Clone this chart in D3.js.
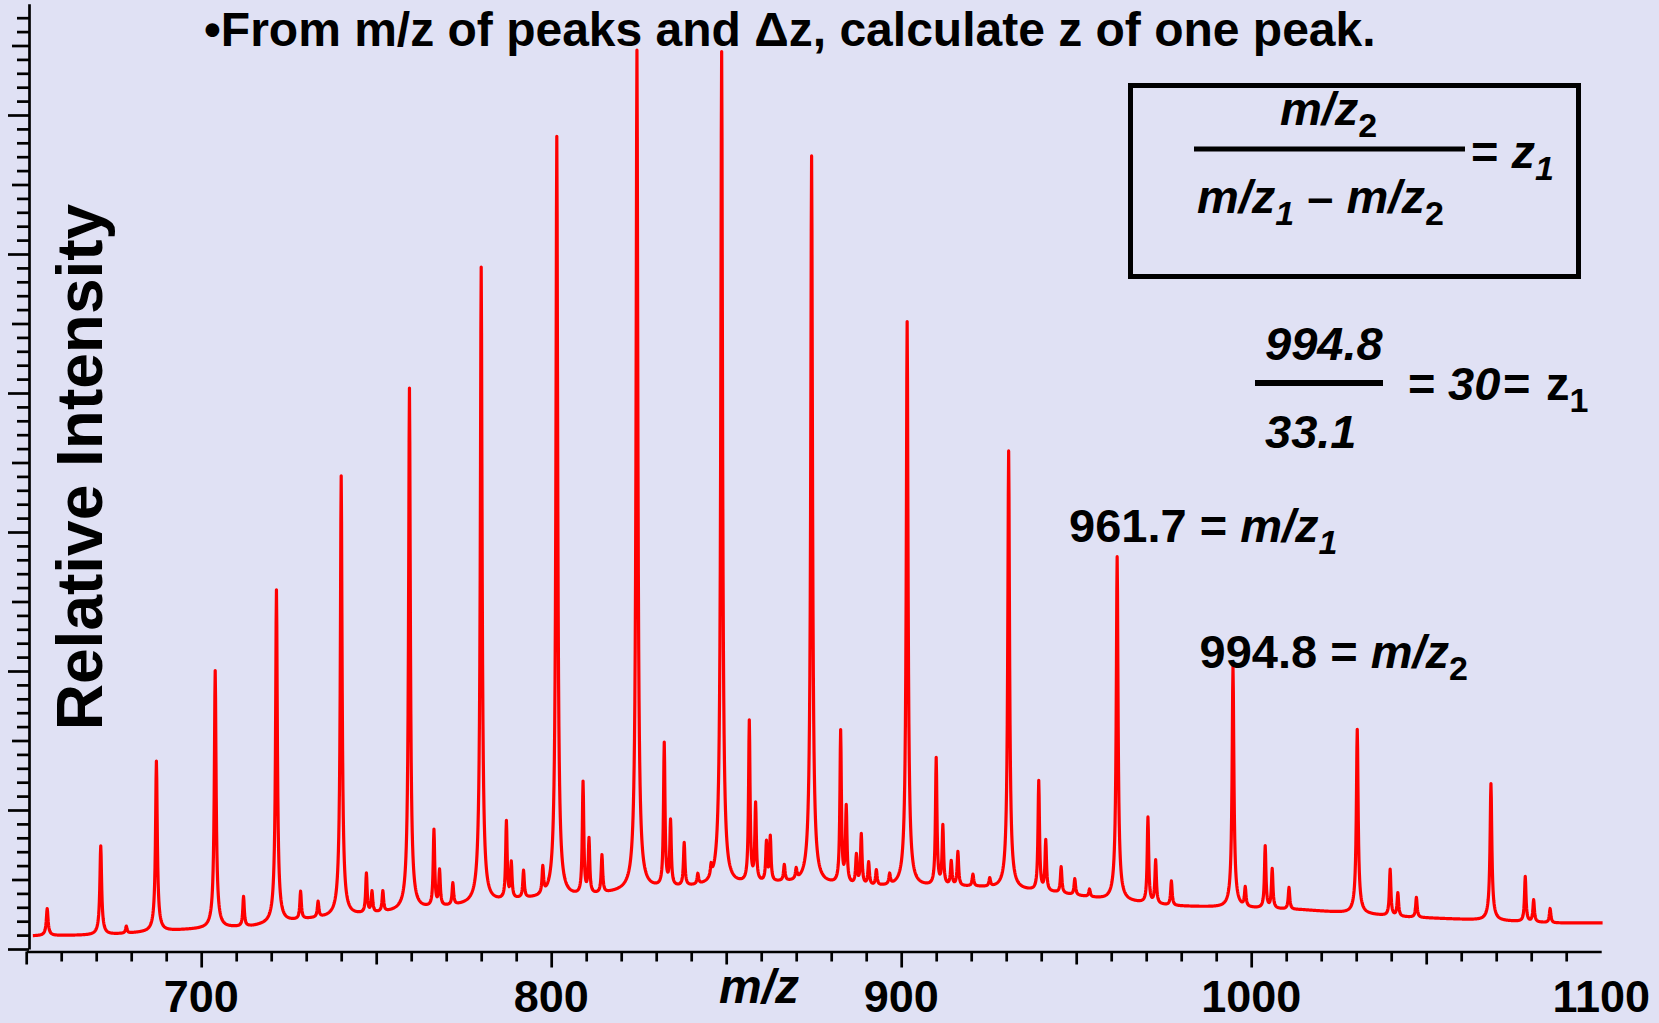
<!DOCTYPE html>
<html>
<head>
<meta charset="utf-8">
<script src="https://cdn.jsdelivr.net/npm/d3@7"></script>
<style>
body { margin: 0; background: #e0e1f4; }
svg { display: block; }
</style>
</head>
<body>
<div id="canvas"></div>
<script>
// ----------------------------------------------------------
// DATA -----------------------------------------------------
// ----------------------------------------------------------

// main charge-state series (m/z, intensity at the top)
var peak_mz = [656.0, 671.3, 687.2, 704.0, 721.5, 740.0, 759.5, 780.0, 801.6,
  824.5, 848.7, 874.4, 901.7, 930.7, 961.7, 994.8, 1030.3, 1068.5];
var peak_top = [2.9, 7.4, 13.5, 20.0, 25.8, 34.0, 40.3, 49.0, 58.4,
  64.6, 64.5, 57.0, 45.1, 35.8, 28.2, 20.3, 15.8, 11.9];

// adduct / minor peaks next to the main ones
var side_mz = [678.6, 712.1, 728.4, 733.4, 747.2, 748.8, 751.9, 766.5, 768.1, 771.9,
  787.2, 788.6, 792.1, 797.6, 809.1, 810.8, 814.5, 832.3, 834.1, 838.0,
  841.9, 845.7, 856.6, 858.4, 861.5, 862.6, 866.6, 870.0, 882.7, 884.3,
  887.2, 888.6, 890.7, 892.9, 896.7, 910.0, 911.9, 914.3, 916.2, 920.5,
  925.3, 939.3, 941.3, 945.7, 949.6, 953.8, 970.5, 972.7, 977.2, 998.3,
  1004.0, 1006.0, 1010.8, 1039.7, 1041.9, 1047.2, 1078.3, 1080.7, 1085.4];
var side_top = [1.6, 3.7, 4.05, 3.3, 5.3, 4.0, 4.05, 8.4, 5.5, 4.6,
  9.0, 6.0, 5.5, 5.5, 11.8, 7.7, 6.6, 14.6, 9.0, 7.5,
  5.2, 5.3, 16.2, 10.2, 7.5, 7.9, 5.9, 5.45, 15.5, 10.0,
  6.6, 8.1, 6.1, 5.56, 5.2, 13.6, 8.7, 6.2, 6.9, 5.3,
  4.96, 12.0, 7.7, 5.85, 5.0, 4.24, 9.4, 6.3, 4.85, 4.3,
  7.36, 5.7, 4.4, 5.7, 4.0, 3.7, 5.2, 3.5, 2.9];

// chemical noise baseline
var base_mz = [651.9, 672.0, 695.6, 714.8, 729.1, 752.8, 772.0, 791.1, 810.0, 825.4, 842.5,
  866.2, 892.0, 920.5, 944.2, 958.5, 977.6, 1014.8, 1043.4, 1064.2, 1086.2, 1100.5];
var base_level = [0.94, 1.0, 1.37, 1.6, 2.09, 2.59, 3.04, 3.53, 3.76, 4.24, 4.46,
  4.75, 4.46, 4.46, 4.03, 3.53, 3.09, 2.81, 2.3, 2.09, 1.87, 1.87];

// axis ticks and labels
var x_ticks = d3.range(650, 1100, 10);
var x_labels = [700, 800, 900, 1000, 1100];
var y_ticks = d3.range(0, 68);

// the two peaks used in the worked example
var label_mz1 = 961.7;
var label_mz2 = 994.8;

var title_text = "\u2022From m/z of peaks and \u0394z, calculate z of one peak.";
var y_title = "Relative Intensity";
var x_title = "m/z";

// ----------------------------------------------------------
// STRUCTURE ------------------------------------------------
// ----------------------------------------------------------
var W = 1659, H = 1023;
var font = "'Liberation Sans', Arial, Helvetica, sans-serif";

var container = d3.select("#canvas").append("svg")
  .attr("width", W)
  .attr("height", H)
  .style("font-family", font);

container.append("rect")
  .attr("width", W)
  .attr("height", H)
  .attr("fill", "#e0e1f4");

var xScale = d3.scaleLinear().domain([650, 1100]).range([26.2, 1601.2]);
var yScale = d3.scaleLinear().domain([0, 68]).range([949, 3.8]);

var gfx_group = container.append("g").attr("class", "gfx_group");
var axis_group = container.append("g").attr("class", "axis_group");
var text_group = container.append("g").attr("class", "text_group");

// ----------------------------------------------------------
// SPECTRUM -------------------------------------------------
// ----------------------------------------------------------
var baseline = d3.scaleLinear().domain(base_mz).range(base_level).clamp(true);

// main peaks get a sharp core plus a wider skirt
var peaks = [];
peak_mz.forEach(function (m, i) {
  var a = Math.max(0, peak_top[i] - baseline(m));
  peaks.push({ c: m, a: a * 0.9, g: 0.28 });
  peaks.push({ c: m, a: a * 0.1, g: 0.8 });
});
side_mz.forEach(function (m, i) {
  peaks.push({ c: m, a: Math.max(0, side_top[i] - baseline(m)), g: 0.25 });
});

// sample grid plus the exact peak centres so every top is hit
var grid = d3.range(base_mz[0], base_mz[base_mz.length - 1], 0.1)
  .concat(peak_mz, side_mz)
  .sort(d3.ascending);

var trace = grid.map(function (m) {
  var v = baseline(m);
  peaks.forEach(function (p) {
    var u = (m - p.c) / p.g;
    v += p.a / (1 + u * u);
  });
  return { mz: m, value: v };
});

var line = d3.line()
  .x(function (d) { return xScale(d.mz); })
  .y(function (d) { return yScale(d.value); });

gfx_group.append("path")
  .datum(trace)
  .attr("d", line)
  .attr("fill", "none")
  .attr("stroke", "#ff0000")
  .attr("stroke-width", 3.2)
  .attr("stroke-linejoin", "round");

// ----------------------------------------------------------
// AXES -----------------------------------------------------
// ----------------------------------------------------------
var y_axis = axis_group.append("g")
  .attr("transform", "translate(29,0)")
  .call(d3.axisLeft(yScale).tickValues(y_ticks).tickFormat("").tickSizeOuter(0));
y_axis.selectAll(".tick line")
  .attr("x2", function (d) { return d % 10 === 0 ? -21 : (d % 5 === 0 ? -17 : -12); });

var x_axis = axis_group.append("g")
  .attr("transform", "translate(0,951.5)")
  .call(d3.axisBottom(xScale).tickValues(x_ticks).tickFormat("").tickSizeOuter(0));
x_axis.selectAll(".tick line")
  .attr("y2", function (d) { return d % 100 === 0 ? 16 : (d % 50 === 0 ? 13 : 10); });

axis_group.selectAll("path, line")
  .attr("stroke", "#000")
  .attr("stroke-width", 2.7);

axis_group.append("g").selectAll("text")
  .data(x_labels)
  .enter()
  .append("text")
  .attr("x", function (d) { return xScale(d); })
  .attr("y", 1012)
  .attr("text-anchor", "middle")
  .attr("font-size", 45)
  .attr("font-weight", "bold")
  .text(function (d) { return d; });

// ----------------------------------------------------------
// TEXT -----------------------------------------------------
// ----------------------------------------------------------
text_group.append("text")
  .attr("x", 204)
  .attr("y", 46)
  .attr("font-size", 48)
  .attr("font-weight", "bold")
  .text(title_text);

text_group.append("text")
  .attr("transform", "translate(102,467) rotate(-90)")
  .attr("text-anchor", "middle")
  .attr("font-size", 64)
  .attr("font-weight", "bold")
  .text(y_title);

text_group.append("text")
  .attr("x", 759)
  .attr("y", 1003)
  .attr("text-anchor", "middle")
  .attr("font-size", 48)
  .attr("font-weight", "bold")
  .attr("font-style", "italic")
  .text(x_title);

// a line of mixed text: parts may be italic and/or subscript
function add_line(x, y, parts) {
  var t = text_group.append("text")
    .attr("x", x)
    .attr("y", y)
    .attr("font-weight", "bold")
    .attr("font-size", 47);
  parts.forEach(function (p) {
    var s = t.append("tspan")
      .attr("y", p.sub ? y + 12 : y)
      .attr("font-style", p.it ? "italic" : "normal")
      .attr("font-size", p.sub ? 34 : 47)
      .text(p.t);
    if (p.x !== undefined) s.attr("x", p.x);
  });
  return t;
}

// formula box
text_group.append("rect")
  .attr("x", 1130.5)
  .attr("y", 85.5)
  .attr("width", 448)
  .attr("height", 191)
  .attr("fill", "none")
  .attr("stroke", "#000")
  .attr("stroke-width", 5);

add_line(1280, 125, [{ t: "m/z", it: true }, { t: "2", sub: true }]);
text_group.append("line")
  .attr("x1", 1194).attr("x2", 1465)
  .attr("y1", 149).attr("y2", 149)
  .attr("stroke", "#000")
  .attr("stroke-width", 5);
add_line(1471, 168, [{ t: "= " }, { t: "z", it: true }, { t: "1", it: true, sub: true }]);
add_line(1197, 213, [
  { t: "m/z", it: true }, { t: "1", it: true, sub: true },
  { t: " \u2013 " },
  { t: "m/z", it: true }, { t: "2", sub: true }
]);

// worked example
var diff = label_mz2 - label_mz1;
add_line(1265, 360, [{ t: label_mz2.toFixed(1), it: true }]);
text_group.append("line")
  .attr("x1", 1255).attr("x2", 1383)
  .attr("y1", 383).attr("y2", 383)
  .attr("stroke", "#000")
  .attr("stroke-width", 6);
add_line(1265, 448, [{ t: diff.toFixed(1), it: true }]);
add_line(1408, 400, [
  { t: "=", x: 1408 },
  { t: String(Math.round(label_mz2 / diff)), it: true, x: 1448 },
  { t: "=", x: 1503 },
  { t: "z", x: 1546 },
  { t: "1", sub: true }
]);

// peak annotations
add_line(1069, 542, [{ t: label_mz1.toFixed(1) + " = " }, { t: "m/z", it: true }, { t: "1", it: true, sub: true }]);
add_line(1199.5, 668, [{ t: label_mz2.toFixed(1) + " = " }, { t: "m/z", it: true }, { t: "2", sub: true }]);
</script>
</body>
</html>
